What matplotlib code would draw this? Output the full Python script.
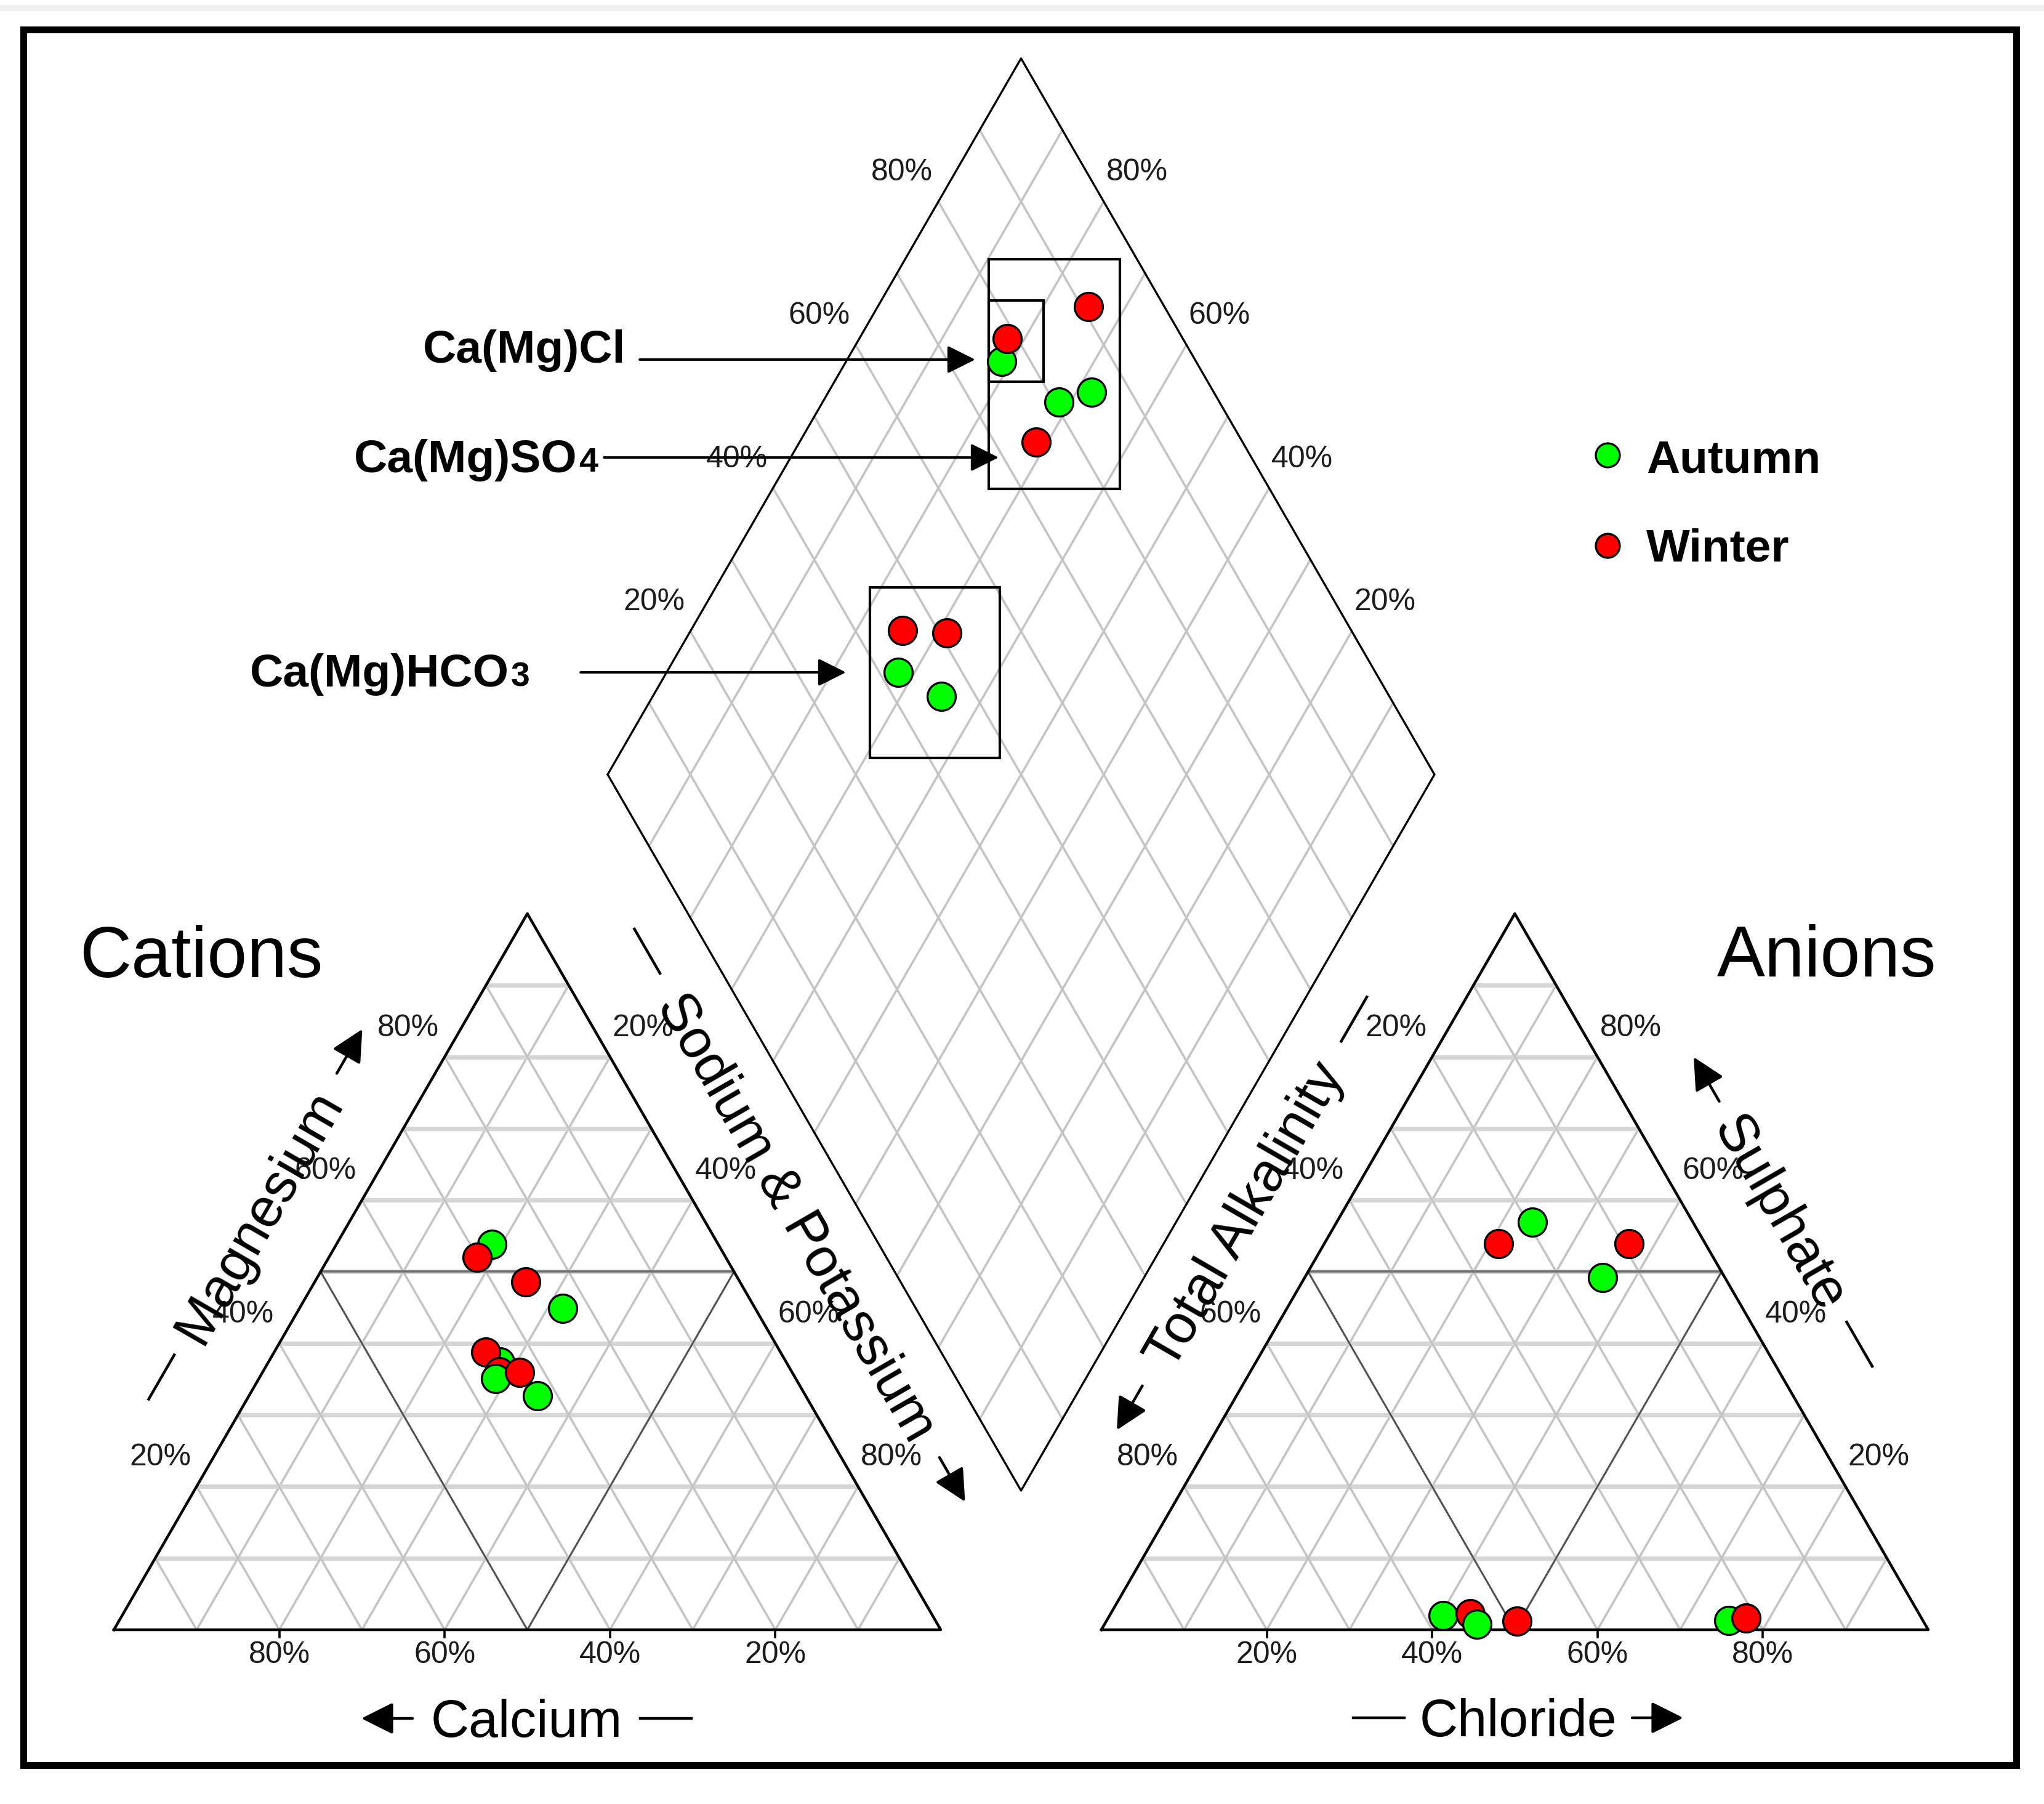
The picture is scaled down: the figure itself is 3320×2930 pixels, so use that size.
import numpy as np
import matplotlib
matplotlib.use("Agg")
import matplotlib.pyplot as plt
from matplotlib.patches import Rectangle

plt.rcParams['font.family'] = ['Liberation Sans', 'DejaVu Sans']

# samples, in drawing order (% of meq/L)
season = ['Autumn', 'Winter', 'Autumn', 'Winter', 'Autumn',
          'Winter', 'Winter', 'Autumn', 'Winter', 'Autumn']
ca = [27.4, 30.1, 23.3, 25.9, 34.6, 35.6, 35.4, 36.3, 33.0, 32.4]
mg = [53.8, 52.0, 44.9, 48.6, 37.4, 38.8, 36.0, 35.1, 35.9, 32.7]
na_k = [18.8, 17.9, 31.8, 25.5, 28.0, 25.6, 28.6, 28.6, 31.1, 34.9]
hco3 = [23.5, 21.2, 14.8, 9.2, 57.7, 54.3, 25.0, 19.4, 49.1, 54.2]
so4 = [1.3, 1.6, 49.2, 53.9, 2.0, 2.2, 53.9, 56.9, 1.2, 0.8]
cl = [75.2, 77.2, 36.0, 36.9, 40.3, 43.5, 21.1, 23.7, 49.7, 45.0]

pct_ticks = [20, 40, 60, 80]
season_colors = {'Autumn': '#00ff00', 'Winter': '#ff0000'}

H = np.sqrt(3) / 2
G = 0.1943  # gap between the triangles (triangle side = 1)

# picture pixels -> data units
S, X0, Y0 = 1343.0, 185.0, 2647.0


def px(x, y):
    return (x - X0) / S, (Y0 - y) / S


def cation_xy(c, m, n):
    t = c + m + n
    return (n + m / 2) / t, m / t * H


def anion_xy(h, s, c):
    t = h + s + c
    return 1 + G + (c + s / 2) / t, s / t * H


def diamond_xy(n, h):
    u0 = n / 100
    u1 = 2 + G - h / 100
    return (u0 + u1) / 2, H * (u1 - u0)


fig = plt.figure(figsize=(16.6, 14.65), dpi=200)
ax = fig.add_axes([0, 0, 1, 1])
ax.set_xlim(px(0, 0)[0], px(3320, 0)[0])
ax.set_ylim(px(0, 2930)[1], px(0, 0)[1])
ax.axis('off')

grid_c = '#c4c4c4'


def tri_grid(ox):
    for k in range(1, 10):
        f = k / 10
        ax.plot([ox + f / 2, ox + 1 - f / 2], [f * H, f * H], color='#d6d6d6', lw=2.6,
                zorder=1, solid_capstyle='butt')
        ax.plot([ox + f, ox + (1 + f) / 2], [0, (1 - f) * H], color=grid_c, lw=1.3, zorder=1)
        ax.plot([ox + f, ox + f / 2], [0, f * H], color=grid_c, lw=1.3, zorder=1)
    ax.plot([ox + 0.25, ox + 0.75], [H / 2, H / 2], color='#707070', lw=1.3, zorder=2)
    ax.plot([ox + 0.25, ox + 0.5, ox + 0.75], [H / 2, 0, H / 2], color='#505050', lw=1.0, zorder=2)
    ax.plot([ox, ox + 1, ox + 0.5, ox], [0, 0, H, 0], color='black', lw=1.6, zorder=3)


tri_grid(0)
tri_grid(1 + G)

# diamond
L = np.array([0.5 + G / 2, H * (1 + G)])
B = np.array([1 + G / 2, H * G])
R = np.array([1.5 + G / 2, H * (1 + G)])
T = np.array([1 + G / 2, H * (2 + G)])
for k in range(1, 10):
    f = k / 10
    p0, p1 = B + f * (R - B), L + f * (T - L)
    ax.plot([p0[0], p1[0]], [p0[1], p1[1]], color=grid_c, lw=1.3, zorder=1)
    p0, p1 = B + f * (L - B), R + f * (T - R)
    ax.plot([p0[0], p1[0]], [p0[1], p1[1]], color=grid_c, lw=1.3, zorder=1)
dm = np.array([L, B, R, T, L])
ax.plot(dm[:, 0], dm[:, 1], color='black', lw=1.2, zorder=3)

# percentage labels
tick_font = dict(fontsize=18, color='#1c1c1c', ha='center', va='center')
dxl, dxr, dy = -0.044, 0.040, 0.035
for p in pct_ticks:
    f = p / 100
    lab = '%d%%' % p
    for xb in (1 - f, 1 + G + f):
        ax.plot([xb, xb], [0, -0.009], color='black', lw=1.3, zorder=3)
        ax.text(xb, -0.0305, lab, **tick_font)
    ax.text(f / 2 + dxl, f * H + dy, lab, **tick_font)
    ax.text(1 - (1 - f) / 2 + dxr, (1 - f) * H + dy, lab, **tick_font)
    ax.text(1 + G + (1 - f) / 2 + dxl, (1 - f) * H + dy, lab, **tick_font)
    ax.text(2 + G - f / 2 + dxr, f * H + dy, lab, **tick_font)
    ax.text(L[0] + f * 0.5 + dxl, L[1] + f * H + dy, lab, **tick_font)
    ax.text(R[0] - f * 0.5 + dxr, R[1] + f * H + dy, lab, **tick_font)

# data points
for i in range(len(season)):
    col = season_colors[season[i]]
    for x, y in (cation_xy(ca[i], mg[i], na_k[i]),
                 anion_xy(hco3[i], so4[i], cl[i]),
                 diamond_xy(na_k[i], hco3[i])):
        ax.plot(x, y, 'o', ms=16.5, mfc=col, mec='black', mew=1.2, zorder=5)


# water-type boxes and arrows
def box(x0, y0, x1, y1):
    a, b = px(x0, y1)
    c, d = px(x1, y0)
    ax.add_patch(Rectangle((a, b), c - a, d - b, fill=False, ec='black', lw=1.5, zorder=4))


box(1606, 421, 1819, 794)
box(1606, 488, 1695, 620)
box(1413, 954, 1624, 1231)

arrow = dict(arrowstyle='-|>,head_length=0.7,head_width=0.35', mutation_scale=20,
             color='black', lw=1.4, shrinkA=0, shrinkB=0)
ax.annotate('', xy=px(1584, 584), xytext=px(1039, 584), arrowprops=arrow, zorder=4)
ax.annotate('', xy=px(1622, 743), xytext=px(981, 743), arrowprops=arrow, zorder=4)
ax.annotate('', xy=px(1374, 1092), xytext=px(943, 1092), arrowprops=arrow, zorder=4)

bold = dict(fontsize=27, fontweight='bold', ha='left', va='baseline')
ax.text(*px(687, 589), 'Ca(Mg)Cl', **bold)
t2 = ax.text(*px(575, 767), 'Ca(Mg)SO', **bold)
ax.annotate('4', xy=(1, 0), xycoords=t2, xytext=(1, 5.7), textcoords='offset points',
            fontsize=20, fontweight='bold', ha='left', va='baseline')
t3 = ax.text(*px(406, 1115), 'Ca(Mg)HCO', **bold)
ax.annotate('3', xy=(1, 0), xycoords=t3, xytext=(1, 5.7), textcoords='offset points',
            fontsize=20, fontweight='bold', ha='left', va='baseline')

# legend
for yk, yt, name in ((739, 767, 'Autumn'), (886, 911, 'Winter')):
    ax.plot(*px(2611, yk), 'o', ms=14, mfc=season_colors[name], mec='black', mew=1.2)
    ax.text(*px(2674, yt), name, **bold)

# panel titles
ax.text(*px(327, 1587), 'Cations', ha='center', va='baseline', fontsize=42)
ax.text(*px(2967, 1586), 'Anions', ha='center', va='baseline', fontsize=42)

# axis names: dash + word + arrow along the edge
ax_arrow = dict(arrowstyle='-|>,head_length=0.8,head_width=0.4', mutation_scale=20,
                color='black', lw=1.6, shrinkA=0, shrinkB=0)


def axis_label(cx, cy, angle, word, half, arrow_end, size):
    a = np.radians(angle)
    d = np.array([np.cos(a), np.sin(a)])
    nrm = np.array([-np.sin(a), np.cos(a)])
    c = np.array(px(cx, cy))
    hl, seg = half / S, 83 / S
    tc = c - 8 / S * nrm
    ax.text(tc[0], tc[1], word, rotation=angle, rotation_mode='anchor',
            ha='center', va='center', fontsize=size)
    p0, p1 = c - hl * d, c + hl * d
    if arrow_end:
        q = p0 + seg * d
        ax.plot([p0[0], q[0]], [p0[1], q[1]], color='black', lw=1.6)
        ax.annotate('', xy=p1, xytext=p1 - seg * d, arrowprops=ax_arrow)
    else:
        q = p1 - seg * d
        ax.plot([q[0], p1[0]], [q[1], p1[1]], color='black', lw=1.6)
        ax.annotate('', xy=p0, xytext=p0 + seg * d, arrowprops=ax_arrow)


axis_label(855, 2791, 0, 'Calcium', 268, False, 31)
axis_label(2466, 2790, 0, 'Chloride', 268, True, 31)
axis_label(415, 1972, 60, 'Magnesium', 347, True, 32)
axis_label(1299, 1974, -60, 'Sodium & Potassium', 537, True, 32)
axis_label(2017, 1971, 60, 'Total Alkalinity', 406, False, 32)
axis_label(2896, 1968, -60, 'Sulphate', 290, False, 32)

# frame
a, b = px(38, 2867)
c, d = px(3275, 48)
ax.add_patch(Rectangle((a, b), c - a, d - b, fill=False, ec='black', lw=4, zorder=6))
ya = px(0, 13)[1]
ax.plot([px(0, 0)[0], px(3320, 0)[0]], [ya, ya], color='#efefef', lw=3.5)

fig.savefig('out.png', dpi=200)
